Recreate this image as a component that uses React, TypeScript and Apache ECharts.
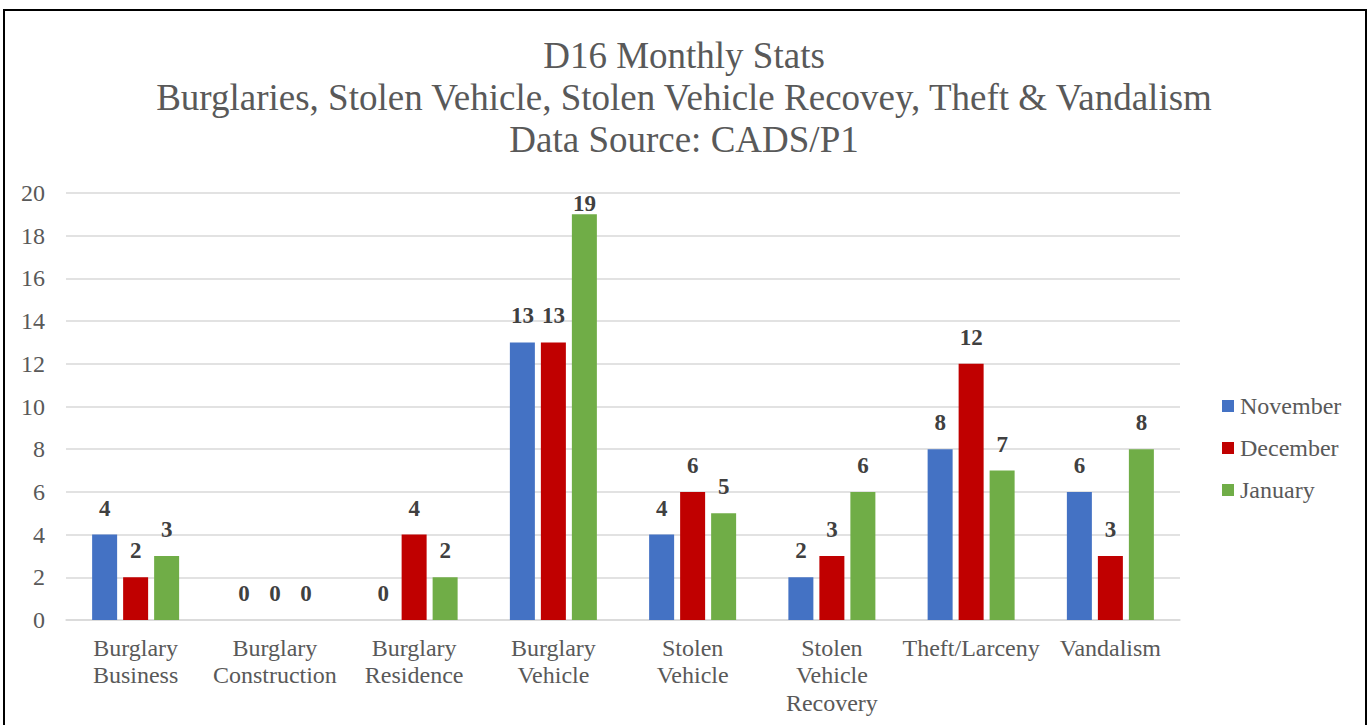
import React, { useEffect, useRef } from "react";
import * as echarts from "echarts";

const categories = [
  "Burglary\nBusiness",
  "Burglary\nConstruction",
  "Burglary\nResidence",
  "Burglary\nVehicle",
  "Stolen\nVehicle",
  "Stolen\nVehicle\nRecovery",
  "Theft/Larceny",
  "Vandalism",
];
const november = [4, 0, 0, 13, 4, 2, 8, 6];
const december = [2, 0, 4, 13, 6, 3, 12, 3];
const january = [3, 0, 2, 19, 5, 6, 7, 8];
const titleLines = [
  "D16 Monthly Stats",
  "Burglaries, Stolen Vehicle, Stolen Vehicle Recovey, Theft & Vandalism",
  "Data Source: CADS/P1",
];
const Y_MAX = 20;

const FONT = "'Liberation Serif', 'Times New Roman', serif";

export default function App() {
  const ref = useRef<HTMLDivElement>(null);
  useEffect(() => {
    const chart = echarts.init(ref.current!, null, { renderer: "svg" });
    const label = {
      show: true,
      position: "top" as const,
      distance: 15,
      fontFamily: FONT,
      fontSize: 23,
      fontWeight: "bold" as const,
      color: "#404040",
    };
    // Excel keeps labels inside the plot area: near the top, the label sits right on the bar
    const toData = (arr: number[]) =>
      arr.map((v) => (v > Y_MAX - 2 ? { value: v, label: { distance: -1 } } : v));
    const mk = (name: string, data: number[], color: string) => ({
      name,
      type: "bar" as const,
      data: toData(data),
      barWidth: 25,
      barGap: "24%",
      itemStyle: { color },
      label,
    });
    chart.setOption({
      animation: false,
      textStyle: { fontFamily: FONT },
      title: {
        text: titleLines.join("\n"),
        left: "center",
        top: 29,
        textStyle: {
          fontFamily: FONT,
          fontSize: 37,
          fontWeight: "normal",
          color: "#595959",
          lineHeight: 42,
        },
      },
      legend: {
        orient: "vertical",
        left: 1222,
        top: 394,
        padding: 0,
        itemWidth: 12,
        itemHeight: 12,
        itemGap: 18,
        icon: "rect",
        textStyle: { fontFamily: FONT, fontSize: 24, color: "#595959", padding: [0, 0, 0, 1] },
        data: ["November", "December", "January"],
      },
      grid: { left: 66, right: 188, top: 193, bottom: 105, containLabel: false },
      xAxis: {
        type: "category",
        data: categories,
        axisLine: { lineStyle: { color: "#d9d9d9", width: 1.5 } },
        axisTick: { show: false },
        axisLabel: {
          fontFamily: FONT,
          fontSize: 24,
          color: "#595959",
          lineHeight: 27.5,
          margin: 14,
          interval: 0,
        },
      },
      yAxis: {
        type: "value",
        min: 0,
        max: Y_MAX,
        interval: 2,
        axisLine: { show: false },
        axisTick: { show: false },
        splitLine: { lineStyle: { color: "#d9d9d9", width: 1.5 } },
        axisLabel: {
          fontFamily: FONT,
          fontSize: 24,
          color: "#595959",
          margin: 21,
        },
      },
      graphic: [
        {
          type: "rect",
          shape: { x: 4, y: 10, width: 1362, height: 740 },
          style: { fill: "none", stroke: "#000", lineWidth: 2 },
          silent: true,
        },
      ],
      series: [
        mk("November", november, "#4472C4"),
        mk("December", december, "#C00000"),
        mk("January", january, "#70AD47"),
      ],
    });
    return () => chart.dispose();
  }, []);
  return (
    <div style={{ position: "fixed", left: 0, top: 0, width: 1368, height: 725, background: "#fff" }}>
      <div ref={ref} style={{ width: 1368, height: 725 }} />
    </div>
  );
}
